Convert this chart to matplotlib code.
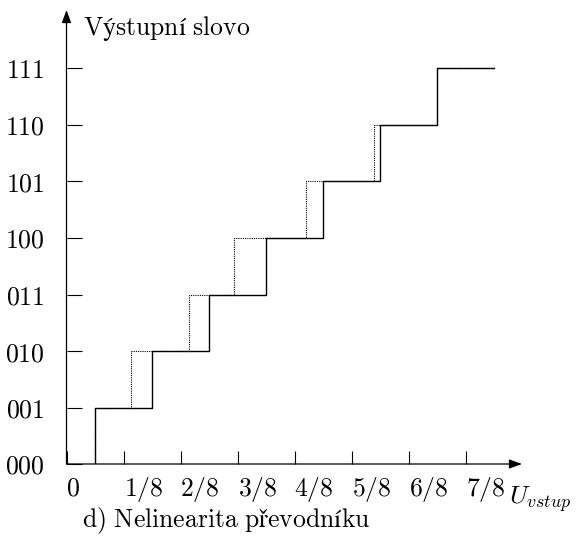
import matplotlib
matplotlib.use("Agg")
import matplotlib.pyplot as plt

plt.rcParams['mathtext.fontset'] = 'cm'

# Data (x in units of 1/8 of full scale, y = output code index)
codes = ['000', '001', '010', '011', '100', '101', '110', '111']
x_tick_labels = ['0', '1/8', '2/8', '3/8', '4/8', '5/8', '6/8', '7/8']
ideal_edges = [0.5, 1.5, 2.5, 3.5, 4.5, 5.5, 6.5]
real_edges = [0.5, 1.14, 2.15, 2.93, 4.21, 5.40, 6.5]
x_end = 7.5

W, H = 584, 537
fig = plt.figure(figsize=(W / 100, H / 100), dpi=100)
x0, y0 = 66.5, 464.0
xtip, ytip = 522.0, 10.0
ux, uy = 57.0, 56.5
ax = fig.add_axes([x0 / W, (H - y0) / H, (xtip - x0) / W, (y0 - ytip) / H])
ax.set_xlim(0, (xtip - x0) / ux)
ax.set_ylim(0, (y0 - ytip) / uy)
for s in ax.spines.values():
    s.set_visible(False)

FS = 18.5
FS_T = 18.5

def mt(s):
    return r'$\mathrm{' + s.replace(' ', r'\ ') + '}$'

def stairs(edges):
    xs = [edges[0]] + list(edges) + [x_end]
    ys = [0] + list(range(1, len(edges) + 1)) + [len(edges)]
    return xs, ys

xr, yr = stairs(real_edges)
xi, yi = stairs(ideal_edges)
ax.step(xr, yr, where='post', color='black', lw=0.8, ls=(0, (1, 1)), zorder=2)
ax.step(xi, yi, where='post', color='black', lw=1.0, zorder=3)

# axes with arrows
arrow = dict(arrowstyle='-|>,head_length=0.55,head_width=0.2', color='black',
             lw=0.9, shrinkA=0, shrinkB=0, mutation_scale=14)
ax.annotate('', xy=(1, 0), xytext=(0, 0), xycoords='axes fraction', arrowprops=arrow)
ax.annotate('', xy=(0, 1), xytext=(0, 0), xycoords='axes fraction', arrowprops=arrow)

ax.set_xticks(range(len(x_tick_labels)))
ax.set_xticklabels([mt(t) for t in x_tick_labels], fontsize=FS_T, ha='left')
ax.set_yticks(range(len(codes)))
ax.set_yticklabels([mt(c) for c in codes], fontsize=FS_T)
ax.tick_params(axis='x', direction='in', length=9.4, width=0.8, pad=8)
ax.tick_params(axis='y', direction='in', length=10.8, width=0.8, pad=15.5)

ax.text((83 - x0) / ux, (y0 - 35) / uy, mt('Výstupní slovo'),
        fontsize=FS, va='baseline', ha='left', clip_on=False)
ax.text((509 - x0) / ux, (y0 - 504) / uy, r'$U_{vstup}$',
        fontsize=FS, va='baseline', ha='left', clip_on=False)
ax.text((82 - x0) / ux, (y0 - 527) / uy, mt('d) Nelinearita převodníku'),
        fontsize=FS, va='baseline', ha='left', clip_on=False)

fig.savefig('out.png', dpi=100)
